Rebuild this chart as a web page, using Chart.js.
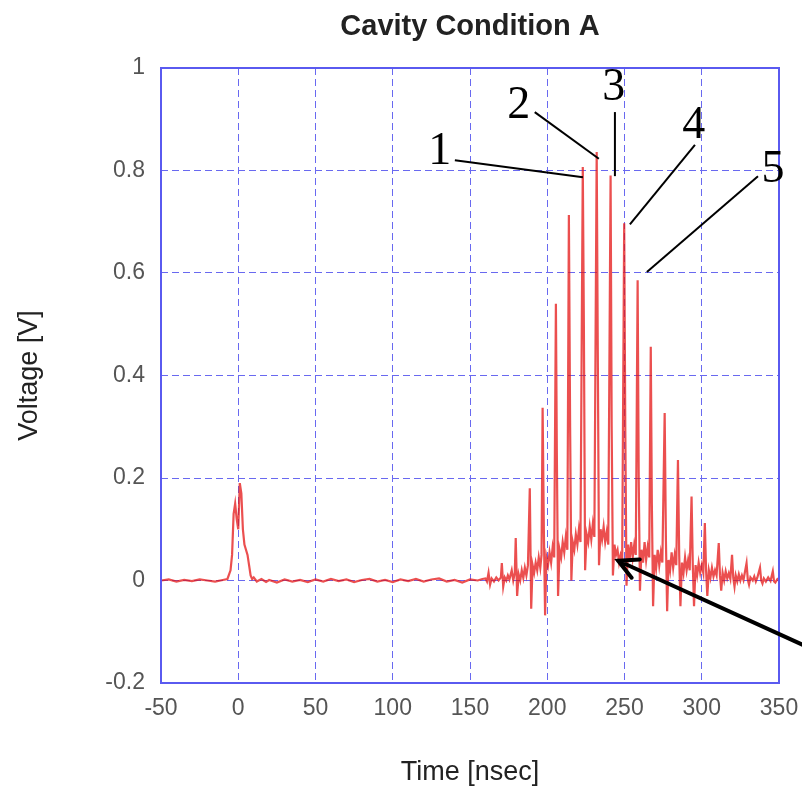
<!DOCTYPE html>
<html>
<head>
<meta charset="utf-8">
<title>Cavity Condition A</title>
<script src="https://cdn.jsdelivr.net/npm/chart.js@4.4.1/dist/chart.umd.min.js"></script>
<style>
    body { margin: 0; background: #fff; }
    #wrap { width: 802px; height: 791px; }
</style>
</head>
<body>
<div id="wrap"><canvas id="cavityChart" width="802" height="791"></canvas></div>
<script>
// Quiet part of the trace: baseline, the pulse at t=0, flat tail
var quietTime = [
    -50, -45, -40, -35, -30, -25, -20, -15, -10, -7,
    -5, -4, -3, -2, -1, 0, 1, 2, 3, 4,
    5, 6, 7, 8, 9, 10, 12, 15, 18, 20,
    25, 30, 35, 40, 45, 50, 55, 60, 65, 70,
    75, 80, 85, 90, 95, 100, 105, 110, 115, 120,
    125, 130, 135, 140, 145, 150, 155, 158
];
var quietVolt = [
    0.000, 0.002, -0.002, 0.001, -0.001, 0.002, 0.000, -0.002, 0.001, 0.003,
    0.020, 0.050, 0.130, 0.150, 0.120, 0.100, 0.190, 0.170, 0.100, 0.070,
    0.060, 0.050, 0.030, 0.010, 0.003, 0.006, -0.002, 0.003, -0.003, 0.001,
    -0.004, 0.002, -0.002, 0.001, -0.003, 0.002, -0.002, 0.003, -0.001, 0.002,
    -0.003, 0.001, 0.003, -0.002, 0.001, -0.003, 0.002, -0.001, 0.003, -0.002,
    0.002, 0.004, -0.002, 0.001, -0.004, 0.002, 0.000, 0.003
];

// Burst part of the trace: spike train riding on the hump
var burstTime = [
    160, 161, 162, 163, 164, 165.5, 167, 168.5, 170, 170.6,
    171.5, 172.5, 173.5, 174.5, 175.5, 176, 177, 178, 179, 179.6,
    180.5, 181.5, 182.5, 183.5, 184.5, 185.5, 186.5, 187.5, 188.7, 189.6,
    190.5, 191.5, 192.5, 193.5, 194.5, 195.5, 196.3, 197, 197.8, 198.6,
    199.5, 200.5, 201.5, 202.5, 203.5, 204.5, 205.6, 206.2, 207, 208,
    209, 210, 211, 212, 213, 214, 214.8, 215.6, 216.5, 217.5,
    218.5, 219.5, 220.5, 221.5, 223, 223.7, 224.5, 225.5, 226.5, 227.5,
    228.5, 229.5, 230.5, 232, 232.7, 233.5, 234.5, 235.5, 236.5, 237.5,
    238.5, 239.5, 241, 241.7, 242.5, 243.5, 244.5, 245.5, 246.5, 247.5,
    248.5, 249.8, 250.5, 251.3, 252.3, 253.3, 254.3, 255.3, 256.3, 257.3,
    258.5, 259.2, 260, 261, 262, 263, 264, 265, 266, 267,
    267.7, 268.5, 269.5, 270.5, 271.5, 272.5, 273.5, 274.5, 276, 276.8,
    277.6, 278.5, 279.5, 280.5, 281.5, 282.5, 283.5, 284.6, 285.4, 286.2,
    287.2, 288.2, 289.2, 290.2, 291.2, 292.2, 293.4, 294.2, 295, 296,
    297, 298, 299, 300, 301, 302, 302.8, 303.6, 304.6, 305.6,
    306.6, 307.6, 308.6, 309.6, 311, 311.8, 312.6, 313.5, 314.5, 315.5,
    316.5, 317.5, 318.5, 319.6, 320.4, 321.2, 322, 323, 324, 325,
    326, 327, 329, 329.8, 330.6, 331.5, 333, 334, 335, 336,
    337.7, 338.5, 339.3, 340.2, 341.5, 343, 344.5, 346, 346.8, 347.6,
    349, 350
];
var burstVolt = [
    0.004, -0.002, 0.015, -0.008, 0.004, -0.002, 0.006, 0.000, 0.006, 0.034,
    -0.012, 0.006, 0.000, 0.010, 0.002, 0.008, 0.020, 0.000, 0.015, 0.083,
    -0.030, 0.012, 0.000, 0.020, 0.005, 0.025, 0.010, 0.030, 0.180, -0.055,
    0.030, 0.015, 0.035, 0.020, 0.045, 0.025, 0.050, 0.337, 0.100, -0.068,
    0.045, 0.030, 0.055, 0.035, 0.065, 0.045, 0.540, 0.250, -0.030, 0.060,
    0.045, 0.075, 0.055, 0.085, 0.060, 0.713, 0.300, 0.000, 0.075, 0.060,
    0.090, 0.070, 0.100, 0.075, 0.807, 0.500, 0.020, 0.090, 0.075, 0.105,
    0.080, 0.110, 0.085, 0.836, 0.450, 0.030, 0.100, 0.080, 0.105, 0.075,
    0.095, 0.070, 0.790, 0.300, 0.010, 0.070, 0.050, 0.060, 0.035, 0.050,
    0.040, 0.697, 0.300, -0.010, 0.070, 0.040, 0.075, 0.045, 0.070, 0.050,
    0.586, 0.200, -0.020, 0.060, 0.035, 0.075, 0.040, 0.065, 0.045, 0.456,
    0.150, -0.050, 0.050, 0.025, 0.060, 0.030, 0.055, 0.035, 0.327, 0.080,
    -0.060, 0.040, 0.020, 0.055, 0.025, 0.050, 0.030, 0.235, 0.050, -0.050,
    0.035, 0.015, 0.045, 0.020, 0.040, 0.020, 0.164, 0.030, -0.050, 0.030,
    0.010, 0.035, 0.015, 0.030, 0.015, 0.112, 0.020, -0.030, 0.020, 0.005,
    0.025, 0.008, 0.020, 0.010, 0.073, 0.010, -0.020, 0.015, 0.000, 0.018,
    0.004, 0.014, 0.003, 0.050, 0.005, -0.012, 0.010, -0.002, 0.012, 0.000,
    0.010, 0.001, 0.034, 0.002, -0.008, 0.006, 0.000, 0.008, -0.002, 0.006,
    0.025, 0.000, -0.006, 0.004, -0.002, 0.006, -0.001, 0.018, -0.002, -0.004,
    0.003, 0.001
];

var xTicks = [-50, 0, 50, 100, 150, 200, 250, 300, 350];
var yTicks = [-0.2, 0, 0.2, 0.4, 0.6, 0.8, 1];

// Numbered peak labels (data units) and their leader lines
var peakNames  = ['1', '2', '3', '4', '5'];
var peakTextX  = [130.4, 181.6, 243.1, 294.9, 346.1];
var peakTextY  = [0.836, 0.926, 0.961, 0.887, 0.801];
var leaderX0   = [140.2, 191.9, 243.8, 295.6, 336.4];
var leaderY0   = [0.820, 0.914, 0.914, 0.850, 0.789];
var leaderX1   = [223.1, 233.4, 243.8, 253.5, 264.5];
var leaderY1   = [0.787, 0.823, 0.789, 0.695, 0.602];

// Big arrow pointing at the dip of the baseline hump
var arrowTail  = [370.1, -0.132];
var arrowTip   = [245.9, 0.0386];
var arrowArmA  = [259.9, 0.041];
var arrowArmB  = [254.6, 0.0055];

var chartTitle = 'Cavity Condition A';

var timeNs = quietTime.concat(burstTime);
var voltageV = quietVolt.concat(burstVolt);
var points = timeNs.map(function(t, i) { return { x: t, y: voltageV[i] }; });

var gridBlue = 'rgb(105, 105, 240)';
var sansFont = "'Liberation Sans', 'DejaVu Sans', Arial, sans-serif";

// title over the plot, solid frame, peak labels and the arrow
var overlayPlugin = {
    id: 'overlay',
    afterDraw: function(chart) {
        var ctx = chart.ctx;
        var xs = chart.scales.x, ys = chart.scales.y;
        var a = chart.chartArea;
        function px(v) { return xs.getPixelForValue(v); }
        function py(v) { return ys.getPixelForValue(v); }

        ctx.save();
        ctx.fillStyle = '#222';
        ctx.font = 'bold 29px ' + sansFont;
        ctx.textAlign = 'center';
        ctx.textBaseline = 'middle';
        ctx.fillText(chartTitle, (a.left + a.right) / 2, 27);

        ctx.strokeStyle = 'rgb(90, 90, 240)';
        ctx.lineWidth = 2;
        ctx.strokeRect(a.left, a.top, a.right - a.left, a.bottom - a.top);

        ctx.strokeStyle = '#000';
        ctx.lineWidth = 2;
        for (var i = 0; i < peakNames.length; i++) {
            ctx.beginPath();
            ctx.moveTo(px(leaderX0[i]), py(leaderY0[i]));
            ctx.lineTo(px(leaderX1[i]), py(leaderY1[i]));
            ctx.stroke();
        }
        ctx.fillStyle = '#000';
        ctx.font = "46px 'Liberation Serif', 'DejaVu Serif', serif";
        for (var j = 0; j < peakNames.length; j++) {
            ctx.fillText(peakNames[j], px(peakTextX[j]), py(peakTextY[j]));
        }

        ctx.lineWidth = 4;
        ctx.lineCap = 'round';
        ctx.beginPath();
        ctx.moveTo(px(arrowTail[0]), py(arrowTail[1]));
        ctx.lineTo(px(arrowTip[0]), py(arrowTip[1]));
        ctx.moveTo(px(arrowArmA[0]), py(arrowArmA[1]));
        ctx.lineTo(px(arrowTip[0]), py(arrowTip[1]));
        ctx.lineTo(px(arrowArmB[0]), py(arrowArmB[1]));
        ctx.stroke();
        ctx.restore();
    }
};

var ctx = document.getElementById('cavityChart').getContext('2d');
var cavityChart = new Chart(ctx, {
    type: 'scatter',
    data: {
        datasets: [{
            label: 'Voltage',
            data: points,
            showLine: true,
            borderColor: 'rgba(228, 20, 20, 0.75)',
            borderWidth: 2.2,
            pointRadius: 0,
            tension: 0
        }]
    },
    options: {
        responsive: false,
        animation: false,
        devicePixelRatio: 1,
        layout: { padding: { left: 0, right: 23, top: 68, bottom: 0 } },
        plugins: {
            legend: { display: false },
            tooltip: { enabled: false },
            title: { display: false }
        },
        scales: {
            x: {
                type: 'linear',
                min: -50,
                max: 350,
                afterBuildTicks: function(scale) {
                    scale.ticks = xTicks.map(function(v) { return { value: v }; });
                },
                afterFit: function(scale) {
                    scale.height = 108;
                    scale.paddingLeft = 0;
                    scale.paddingRight = 0;
                },
                grid: {
                    color: gridBlue,
                    lineWidth: 1,
                    drawTicks: false
                },
                border: { display: false, dash: [7, 4] },
                ticks: {
                    padding: 12,
                    color: '#555',
                    font: { family: sansFont, size: 23 }
                },
                title: {
                    display: true,
                    text: 'Time [nsec]',
                    color: '#222',
                    font: { family: sansFont, size: 27 },
                    padding: { top: 0, bottom: 2 }
                }
            },
            y: {
                type: 'linear',
                min: -0.2,
                max: 1,
                afterBuildTicks: function(scale) {
                    scale.ticks = yTicks.map(function(v) { return { value: v }; });
                },
                afterFit: function(scale) {
                    scale.width = 161;
                    scale.paddingTop = 0;
                    scale.paddingBottom = 0;
                },
                grid: {
                    color: gridBlue,
                    lineWidth: 1,
                    drawTicks: false
                },
                border: { display: false, dash: [7, 4] },
                ticks: {
                    padding: 16,
                    color: '#555',
                    font: { family: sansFont, size: 23 },
                    callback: function(value) { return String(Number(value.toFixed(1))); }
                },
                title: {
                    display: true,
                    text: 'Voltage [V]',
                    color: '#222',
                    font: { family: sansFont, size: 27 },
                    padding: { top: 13, bottom: 0 }
                }
            }
        }
    },
    plugins: [overlayPlugin]
});
</script>
</body>
</html>
